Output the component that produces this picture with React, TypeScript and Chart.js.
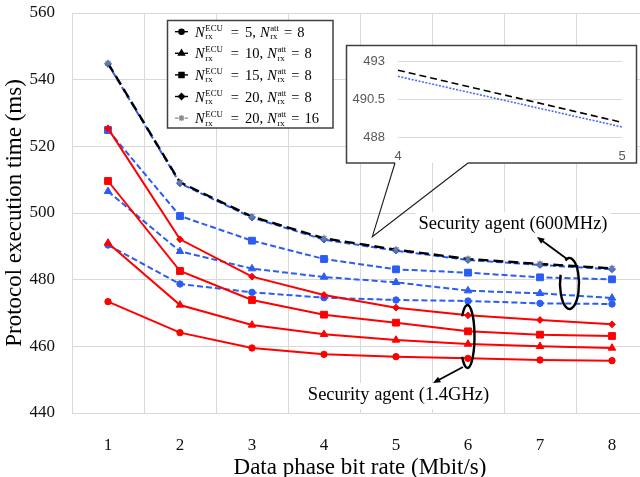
import React, { useEffect, useRef } from 'react';
import { Chart, registerables } from 'chart.js';
import { drawPoint } from 'chart.js/helpers';

Chart.register(...registerables);

const SERIF = '"Liberation Serif", "Times New Roman", serif';
const SANS = '"Liberation Sans", Arial, sans-serif';

// ---------- data ----------
const categories = ['1', '2', '3', '4', '5', '6', '7', '8'];

// Security agent 1.4GHz (red, solid)
const red5_8 = [473.4, 464.1, 459.5, 457.6, 456.9, 456.4, 455.9, 455.7];
const red10_8 = [491.0, 472.4, 466.4, 463.6, 461.9, 460.7, 460.0, 459.5];
const red15_8 = [509.6, 482.6, 473.9, 469.5, 467.1, 464.5, 463.5, 463.1];
const red20_8 = [525.4, 492.1, 480.9, 475.4, 471.6, 469.3, 467.9, 466.6];

// Security agent 600MHz (blue, dashed)
const blue5_8 = [490.4, 478.7, 476.2, 474.6, 473.9, 473.6, 472.9, 472.7];
const blue10_8 = [506.5, 488.5, 483.3, 480.8, 479.2, 476.7, 475.9, 474.5];
const blue15_8 = [524.9, 499.1, 491.7, 486.2, 483.1, 482.1, 480.7, 480.1];
const blue20_8 = [544.7, 508.9, 498.6, 492.0, 488.7, 485.9, 484.4, 483.1];
const black20_16 = [544.9, 509.2, 498.9, 492.4, 489.0, 486.2, 484.7, 483.4];

const yTicks = { min: 440, max: 560, step: 20 };

// inset (zoom on bit rate 4..5)
const insetLabels = ['4', '5'];
const insetFrom = 3;
const insetTo = 5;
const insetTicks = { min: 488, max: 493, step: 2.5 };

// legend text
const legendEcu = ['5', '10', '15', '20', '20'];
const legendAtt = ['8', '8', '8', '8', '16'];

// annotation anchors in data coordinates [category index, value]
const label600 = { text: 'Security agent (600MHz)', at: [5.625, 495.1] };
const label14 = { text: 'Security agent (1.4GHz)', at: [4.035, 443.9] };
const ellipse600 = [6.41, 478.85];
const ellipse14 = [4.993, 462.95];
const arrow600 = [[6.375, 486.2], [5.958, 492.8]];
const arrow14 = [[4.93, 453.8], [4.514, 449.0]];
const calloutTip = [3.671, 492.9];

// ---------- styles ----------
const RED = '#ff0000';
const BLUE = '#2b5cf4';
const GRID = '#d9d9d9';

const legendMarkers = [
  { pointStyle: 'circle', radius: 2.6 },
  { pointStyle: 'triangle', radius: 3.4 },
  { pointStyle: 'rect', radius: 3.6 },
  { pointStyle: 'rectRot', radius: 3.0 },
  { pointStyle: 'star', radius: 3.0 },
];

function ds(label: string, data: number[], color: string, style: string, radius: number, dashed: boolean) {
  return {
    label,
    data,
    borderColor: color,
    backgroundColor: color,
    borderWidth: 2,
    borderDash: dashed ? [6, 3] : [],
    pointStyle: style,
    pointRadius: radius,
    pointBackgroundColor: color,
    pointBorderColor: color,
    pointBorderWidth: 1,
    tension: 0,
  };
}

function drawArrow(ctx: CanvasRenderingContext2D, x1: number, y1: number, x2: number, y2: number) {
  const ang = Math.atan2(y2 - y1, x2 - x1);
  const hl = 8;
  ctx.beginPath();
  ctx.moveTo(x1, y1);
  ctx.lineTo(x2 - Math.cos(ang) * hl * 0.6, y2 - Math.sin(ang) * hl * 0.6);
  ctx.stroke();
  ctx.beginPath();
  ctx.moveTo(x2, y2);
  ctx.lineTo(x2 - hl * Math.cos(ang - 0.4), y2 - hl * Math.sin(ang - 0.4));
  ctx.lineTo(x2 - hl * Math.cos(ang + 0.4), y2 - hl * Math.sin(ang + 0.4));
  ctx.closePath();
  ctx.fill();
}

function drawMathLabel(ctx: CanvasRenderingContext2D, x0: number, baseY: number, ecu: string, att: string) {
  let x = x0;
  const main = `14.5px ${SERIF}`;
  const ital = `italic 14.5px ${SERIF}`;
  const scr = `8.8px ${SERIF}`;
  ctx.textAlign = 'left';
  ctx.textBaseline = 'alphabetic';
  ctx.fillStyle = '#000';
  const drawN = (sup: string) => {
    ctx.font = ital;
    ctx.fillText('N', x, baseY);
    x += ctx.measureText('N').width + 0.6;
    ctx.font = scr;
    ctx.fillText(sup, x, baseY - 6);
    const w1 = ctx.measureText(sup).width;
    ctx.fillText('rx', x, baseY + 2.5);
    const w2 = ctx.measureText('rx').width;
    x += Math.max(w1, w2);
  };
  drawN('ECU');
  x += 8;
  ctx.font = main;
  ctx.fillText('=', x, baseY);
  x += ctx.measureText('=').width + 6;
  ctx.fillText(ecu + ',', x, baseY);
  x += ctx.measureText(ecu + ',').width + 4;
  drawN('att');
  x += 5;
  ctx.font = main;
  ctx.fillText('=', x, baseY);
  x += ctx.measureText('=').width + 5;
  ctx.fillText(att, x, baseY);
}

const annotPlugin = {
  id: 'annot',
  beforeDatasetsDraw(chart: any) {
    const { ctx, scales } = chart;
    const xs = scales.x;
    const ys = scales.y;
    ctx.save();

    // inset callout box
    const L = 346.5, T = 45.5, R = 636.5, B = 163;
    ctx.fillStyle = '#fff';
    ctx.fillRect(L, T, R - L, B - T);
    ctx.strokeStyle = '#404040';
    ctx.lineWidth = 1.5;
    ctx.beginPath();
    ctx.moveTo(395, B);
    ctx.lineTo(L, B);
    ctx.lineTo(L, T);
    ctx.lineTo(R, T);
    ctx.lineTo(R, B);
    ctx.lineTo(468, B);
    ctx.stroke();
    const tx = xs.getPixelForValue(calloutTip[0]);
    const ty = ys.getPixelForValue(calloutTip[1]);
    ctx.strokeStyle = '#1a1a1a';
    ctx.lineWidth = 1.1;
    ctx.beginPath();
    ctx.moveTo(395, B);
    ctx.lineTo(tx, ty);
    ctx.lineTo(468, B);
    ctx.stroke();

    // legend
    ctx.fillStyle = '#fff';
    ctx.fillRect(167, 20, 166, 108);
    ctx.strokeStyle = '#404040';
    ctx.lineWidth = 1.5;
    ctx.strokeRect(167.5, 20.5, 165.5, 107.5);
    for (let i = 0; i < legendEcu.length; i++) {
      const rowY = 31.7 + i * 21.6;
      const last = i === legendEcu.length - 1;
      ctx.strokeStyle = last ? '#8a8a8a' : '#000';
      ctx.fillStyle = last ? '#8a8a8a' : '#000';
      ctx.lineWidth = 1.4;
      ctx.setLineDash(last ? [3, 2] : []);
      ctx.beginPath();
      ctx.moveTo(175, rowY);
      ctx.lineTo(188, rowY);
      ctx.stroke();
      ctx.setLineDash([]);
      drawPoint(ctx, { ...legendMarkers[i], rotation: 0, borderWidth: 1 } as any, 181.5, rowY);
      drawMathLabel(ctx, 195, rowY + 5, legendEcu[i], legendAtt[i]);
    }

    // annotation labels with white background
    ctx.font = `18.5px ${SERIF}`;
    ctx.textAlign = 'center';
    ctx.textBaseline = 'alphabetic';
    for (const lab of [label600, label14]) {
      const px = xs.getPixelForValue(lab.at[0]);
      const py = ys.getPixelForValue(lab.at[1]);
      const w = ctx.measureText(lab.text).width;
      ctx.fillStyle = '#fff';
      ctx.fillRect(px - w / 2 - 3, py - 17, w + 6, 26);
      ctx.fillStyle = '#000';
      ctx.fillText(lab.text, px, py);
    }
    ctx.restore();
  },
  afterDatasetsDraw(chart: any) {
    const { ctx, scales } = chart;
    const xs = scales.x;
    const ys = scales.y;
    ctx.save();
    ctx.strokeStyle = '#000';
    ctx.fillStyle = '#000';
    ctx.lineWidth = 2.4;
    // ellipses
    const e1x = xs.getPixelForValue(ellipse600[0]);
    const e1y = ys.getPixelForValue(ellipse600[1]);
    ctx.beginPath();
    ctx.ellipse(e1x, e1y, 9.5, 25.5, 0, (-115 * Math.PI) / 180, (200 * Math.PI) / 180);
    ctx.stroke();
    const e2x = xs.getPixelForValue(ellipse14[0]);
    const e2y = ys.getPixelForValue(ellipse14[1]);
    ctx.beginPath();
    ctx.ellipse(e2x, e2y, 7, 31.5, 0, (-140 * Math.PI) / 180, (140 * Math.PI) / 180);
    ctx.stroke();
    // arrows
    ctx.lineWidth = 1.8;
    for (const a of [arrow600, arrow14]) {
      drawArrow(
        ctx,
        xs.getPixelForValue(a[0][0]),
        ys.getPixelForValue(a[0][1]),
        xs.getPixelForValue(a[1][0]),
        ys.getPixelForValue(a[1][1])
      );
    }
    ctx.restore();
  },
};

function mainConfig(): any {
  return {
    type: 'line',
    data: {
      labels: categories,
      datasets: [
        {
          ...ds('N_ECU=20, N_att=16', black20_16, '#000', 'star', 3.5, false),
          borderDash: [10, 5],
          borderWidth: 2.4,
          pointBackgroundColor: '#6b7aa1',
          pointBorderColor: '#6b7aa1',
          pointBorderWidth: 1.2,
        },
        ds('1.4GHz N_ECU=20', red20_8, RED, 'rectRot', 3.4, false),
        ds('1.4GHz N_ECU=15', red15_8, RED, 'rect', 4.8, false),
        ds('1.4GHz N_ECU=10', red10_8, RED, 'triangle', 4.3, false),
        ds('1.4GHz N_ECU=5', red5_8, RED, 'circle', 3.2, false),
        ds('600MHz N_ECU=20', blue20_8, BLUE, 'rectRot', 3.4, true),
        ds('600MHz N_ECU=15', blue15_8, BLUE, 'rect', 4.8, true),
        ds('600MHz N_ECU=10', blue10_8, BLUE, 'triangle', 4.3, true),
        ds('600MHz N_ECU=5', blue5_8, BLUE, 'circle', 3.2, true),
      ],
    },
    options: {
      animation: false,
      responsive: false,
      layout: { padding: { top: 13, right: 12, left: 0, bottom: 0 } },
      plugins: { legend: { display: false }, tooltip: { enabled: false }, title: { display: false } },
      scales: {
        x: {
          type: 'category',
          offset: true,
          grid: { offset: true, color: GRID, lineWidth: 1, drawTicks: false },
          border: { color: GRID, width: 1 },
          ticks: { font: { family: SERIF, size: 17 }, color: '#111', padding: 22, maxRotation: 0, autoSkip: false },
          title: {
            display: true,
            text: 'Data phase bit rate (Mbit/s)',
            font: { family: SERIF, size: 23, lineHeight: 1 },
            color: '#000',
            padding: { top: 0, bottom: 0 },
          },
          afterFit(s: any) {
            s.height = 66;
            s.paddingLeft = 0;
            s.paddingRight = 0;
          },
        },
        y: {
          min: yTicks.min,
          max: yTicks.max,
          grid: { color: GRID, lineWidth: 1, drawTicks: false },
          border: { color: GRID, width: 1 },
          ticks: { stepSize: yTicks.step, font: { family: SERIF, size: 17 }, color: '#111', padding: 17 },
          title: {
            display: true,
            text: 'Protocol execution time (ms)',
            font: { family: SERIF, size: 23, lineHeight: 1 },
            color: '#000',
            padding: { top: 3.5, bottom: 0 },
          },
          afterFit(s: any) {
            s.width = 72;
            s.paddingTop = 0;
            s.paddingBottom = 0;
          },
        },
      },
    },
    plugins: [annotPlugin],
  };
}

function insetConfig(): any {
  return {
    type: 'line',
    data: {
      labels: insetLabels,
      datasets: [
        {
          data: black20_16.slice(insetFrom, insetTo),
          borderColor: '#000',
          borderWidth: 1.6,
          borderDash: [7, 4],
          pointRadius: 0,
        },
        {
          data: blue20_8.slice(insetFrom, insetTo),
          borderColor: '#4a6ef0',
          borderWidth: 1.6,
          borderDash: [2, 1.5],
          pointRadius: 0,
        },
      ],
    },
    options: {
      animation: false,
      responsive: false,
      layout: { padding: { top: 15, right: 14, left: 0, bottom: 0 } },
      plugins: { legend: { display: false }, tooltip: { enabled: false } },
      scales: {
        x: {
          offset: false,
          grid: { display: false, drawTicks: false },
          border: { display: false },
          ticks: { font: { family: SANS, size: 13 }, color: '#595959', padding: 11, maxRotation: 0 },
          afterFit(s: any) {
            s.height = 24.3;
            s.paddingLeft = 0;
            s.paddingRight = 0;
          },
        },
        y: {
          min: insetTicks.min,
          max: insetTicks.max,
          grid: { color: GRID, drawTicks: false },
          border: { display: false },
          ticks: {
            stepSize: insetTicks.step,
            font: { family: SANS, size: 13 },
            color: '#595959',
            padding: 13,
            callback: (v: any) => String(v),
          },
          afterFit(s: any) {
            s.width = 51;
            s.paddingTop = 0;
            s.paddingBottom = 0;
          },
        },
      },
    },
  };
}

export default function App() {
  const mainRef = useRef<HTMLCanvasElement>(null);
  const insetRef = useRef<HTMLCanvasElement>(null);
  useEffect(() => {
    const c1 = new Chart(mainRef.current as HTMLCanvasElement, mainConfig());
    const c2 = new Chart(insetRef.current as HTMLCanvasElement, insetConfig());
    return () => {
      c1.destroy();
      c2.destroy();
    };
  }, []);
  return (
    <div style={{ position: 'fixed', left: 0, top: 0, width: 640, height: 477, overflow: 'hidden', background: '#fff' }}>
      <canvas ref={mainRef} width={660} height={479} style={{ position: 'absolute', left: 0, top: 0, width: 660, height: 479 }} />
      <canvas ref={insetRef} width={289} height={116} style={{ position: 'absolute', left: 347, top: 46, width: 289, height: 116 }} />
    </div>
  );
}
